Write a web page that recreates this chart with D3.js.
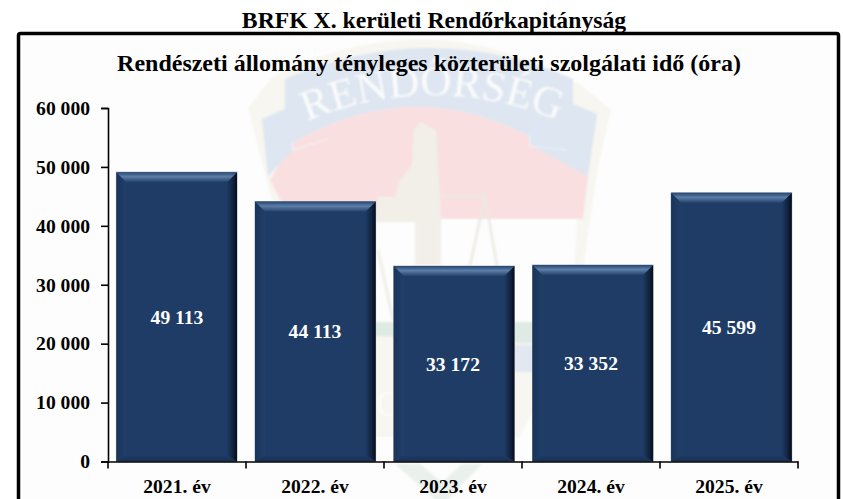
<!DOCTYPE HTML>
<html>
<head>
	<title>BRFK X. kerületi Rendőrkapitányság</title>
	<meta charset="UTF8">
	<script src="https://d3js.org/d3.v7.min.js"></script>
	<style>
		body { margin: 0; background: white; overflow: hidden; }
		svg { display: block; }
		text { font-family: "Liberation Serif", serif; font-weight: bold; fill: black; }
		.axis path, .axis line { stroke: black; stroke-width: 1.6; }
		.axis text { font-size: 19.6px; font-family: "Liberation Serif", serif; }
	</style>
</head>
<body>
	<svg id="chart" width="843" height="499"></svg>
	<script>
		const years = ["2021. év", "2022. év", "2023. év", "2024. év", "2025. év"];
		const hours = [49113, 44113, 33172, 33352, 45599];
		const yTicks = [0, 10000, 20000, 30000, 40000, 50000, 60000];

		const pageTitle = "BRFK X. kerületi Rendőrkapitányság";
		const chartTitle = "Rendészeti állomány tényleges közterületi szolgálati idő (óra)";

		const plotLeft = 108, plotRight = 798, plotTop = 108, plotBottom = 461.5;
		const bevel = 10;

		// 49113 -> "49 113"
		const fmt = d => d3.format(",")(d).replace(/,/g, " ");

		const svg = d3.select("#chart");
		const defs = svg.append("defs");

		const addGrad = (id, x2, y2, stops) => {
			const g = defs.append("linearGradient").attr("id", id)
				.attr("x1", 0).attr("y1", 0).attr("x2", x2).attr("y2", y2);
			stops.forEach(s => g.append("stop").attr("offset", s[0]).attr("stop-color", s[1]));
		};
		addGrad("bevelTop", 0, 1, [[0, "#27466f"], [0.45, "#5c7ea8"], [1, "#24426c"]]);
		addGrad("bevelLeft", 1, 0, [[0, "#1a3459"], [1, "#213f6a"]]);
		addGrad("bevelRight", 1, 0, [[0, "#1e3a63"], [0.6, "#11233f"], [1, "#060c16"]]);
		addGrad("bevelBottom", 0, 1, [[0, "#1f3c66"], [1, "#172e50"]]);
		defs.append("filter").attr("id", "soft").append("feGaussianBlur").attr("stdDeviation", 1.2);

		// frame
		svg.append("rect").attr("x", 18.5).attr("y", 33.5)
			.attr("width", 820).attr("height", 500).attr("rx", 2)
			.attr("fill", "#fdfdfd").attr("stroke", "black").attr("stroke-width", 3.5);

		// faded police emblem behind the chart
		const emblem = svg.append("g").attr("filter", "url(#soft)");
		const shape = (d, fill) => emblem.append("path").attr("d", d).attr("fill", fill);
		const line = (d, color, sw) => emblem.append("path").attr("d", d)
			.attr("fill", "none").attr("stroke", color).attr("stroke-width", sw);

		// shield border
		shape("M248,108 L272,77 Q430,-2 581,85 L611,110 L597,172 L584,262 L576,322 L520,437 L370,437 L300,322 L272,200 Z", "#f7f6f0");
		// red field
		shape("M270,180 L292,143 Q410,75 527,135 L588,176 L583,219 L290,219 Z", "#fadfe0");
		// white field with the scales
		shape("M290,219 L577,219 L572,322 L300,322 Z", "#fdfdfd");
		// ribbon
		shape("M262,119 L285,109 L285,79 Q430,17 573,79 L573,104 L597,114 L588,176 L530,145 L527,135 Q410,75 292,143 L293,150 L268,176 Z", "#dde6f1");
		line("M292,143 L293,150 L328,139", "#f0f3f7", 1.2);
		line("M530,135 L530,146 L567,150", "#f0f3f7", 1.2);
		// tower and scales
		shape("M420,122 L436,130 L441,219 L441,265 L415,265 L415,222 L375,222 L378,197 L395,197 L400,180 L412,165 L414,130 Z", "#f1efe8");
		line("M441,196 L485,196 M485,196 L470,266 M485,196 L497,266", "#ece9e0", 2.5);
		line("M378,250 L393,320", "#f0eee7", 3);
		// lower medallion
		shape("M300,322 L572,322 L560,345 L300,332 Z", "#dfeae2");
		shape("M450,345 L560,345 L545,372 L500,372 Z", "#e1e8f1");
		// lower tip
		shape("M395,464 L420,464 L442,482 L462,464 L482,464 L442,506 Z", "#eaf1ec");

		emblem.append("path").attr("id", "arc").attr("fill", "none")
			.attr("d", "M303,123 Q430,68 562,122");
		emblem.append("text").style("font-weight", "normal").style("font-size", "43px").style("fill", "#fbfbfb")
			.append("textPath").attr("href", "#arc").attr("startOffset", "50%").attr("text-anchor", "middle")
			.text("RENDŐRSÉG");
		emblem.append("text").attr("x", 376).attr("y", 416)
			.style("font-weight", "normal").style("font-size", "36px").style("fill", "#fbfbfb").text("C");

		// axis and labels use x, the bars drift slightly wider in the original so they get their own scale
		const x = d3.scaleBand().domain(years).range([plotLeft, plotRight])
			.paddingInner(0.125).paddingOuter(0.0625);
		const barX = d3.scaleBand().domain(years).range([107.3, 800.8])
			.paddingInner(0.13).paddingOuter(0.065);
		const y = d3.scaleLinear().domain([0, 60000]).range([plotBottom, plotTop]);

		// bars
		const bars = svg.append("g").selectAll("g").data(years).enter().append("g")
			.attr("transform", (d, i) => "translate(" + barX(d) + "," + y(hours[i]) + ")");

		const bw = barX.bandwidth();
		const bh = (d, i) => plotBottom - y(hours[i]);

		bars.append("rect").attr("width", bw).attr("height", bh)
			.attr("fill", "#1f3c66").attr("stroke", "#8c9cb0").attr("stroke-width", 0.8);
		bars.append("path").attr("fill", "url(#bevelLeft)")
			.attr("d", (d, i) => "M0,0 L" + bevel + "," + bevel + " L" + bevel + "," + (bh(d, i) - 6) + " L0," + bh(d, i) + " Z");
		bars.append("path").attr("fill", "url(#bevelRight)")
			.attr("d", (d, i) => "M" + bw + ",0 L" + (bw - bevel) + "," + bevel + " L" + (bw - bevel) + "," + (bh(d, i) - 6) + " L" + bw + "," + bh(d, i) + " Z");
		bars.append("path").attr("fill", "url(#bevelTop)")
			.attr("d", "M0,0 L" + bw + ",0 L" + (bw - bevel) + "," + bevel + " L" + bevel + "," + bevel + " Z");
		bars.append("path").attr("fill", "url(#bevelBottom)")
			.attr("d", (d, i) => "M0," + bh(d, i) + " L" + bw + "," + bh(d, i) + " L" + (bw - bevel) + "," + (bh(d, i) - 6) + " L" + bevel + "," + (bh(d, i) - 6) + " Z");

		bars.append("text")
			.attr("x", d => x(d) + x.bandwidth() / 2 - barX(d)).attr("y", (d, i) => bh(d, i) / 2).attr("dy", "0.35em")
			.attr("text-anchor", "middle")
			.style("fill", "white").style("font-size", "19.6px")
			.text((d, i) => fmt(hours[i]));

		// axes
		const yAxis = d3.axisLeft(y).tickValues(yTicks).tickFormat(fmt).tickSize(7).tickPadding(11);
		svg.append("g").attr("class", "axis").attr("transform", "translate(" + plotLeft + ",0)").call(yAxis);

		const xAxis = d3.axisBottom(x).tickSize(0).tickPadding(18);
		const xg = svg.append("g").attr("class", "axis").attr("transform", "translate(0," + plotBottom + ")").call(xAxis);
		// ticks sit between the categories, not under them
		xg.selectAll(".sep").data(d3.range(years.length + 1)).enter().append("line")
			.attr("class", "sep")
			.attr("x1", i => x.step() * i + plotLeft).attr("x2", i => x.step() * i + plotLeft)
			.attr("y1", 0).attr("y2", 7);

		// titles
		svg.append("text").attr("x", 434).attr("y", 28).attr("text-anchor", "middle")
			.style("font-size", "23.7px").text(pageTitle);
		svg.append("text").attr("x", 429).attr("y", 70.5).attr("text-anchor", "middle")
			.style("font-size", "24px").text(chartTitle);
	</script>
</body>
</html>
